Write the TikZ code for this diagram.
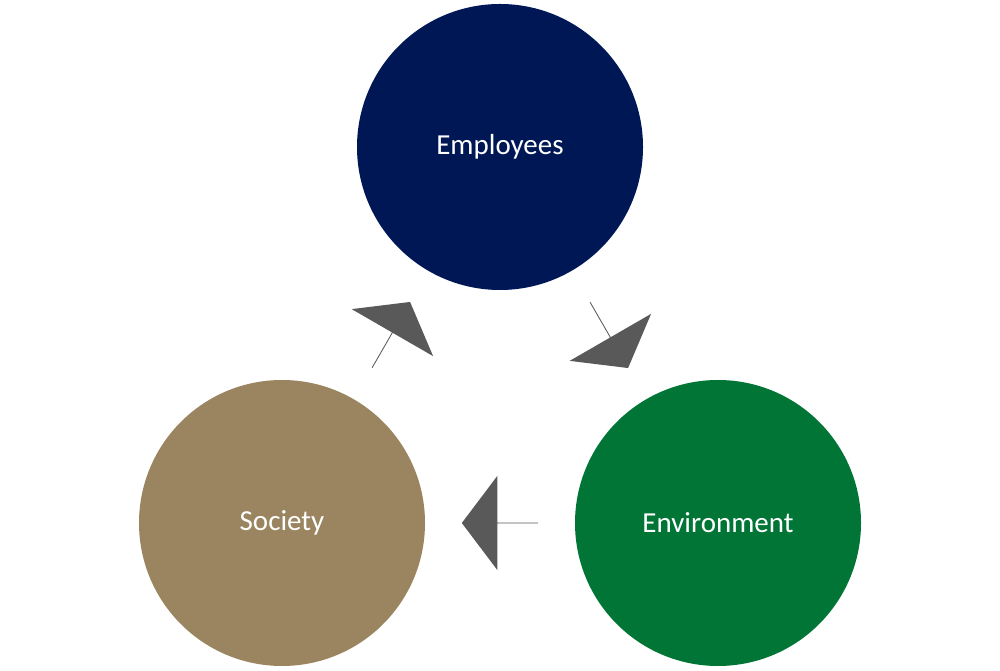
\documentclass[tikz,border=0pt]{standalone}
\usepackage{fontspec}
\setmainfont{Carlito}
\usetikzlibrary{shapes.arrows,calc}
\definecolor{navy}{RGB}{0,23,86}
\definecolor{leaf}{RGB}{0,117,53}
\definecolor{sand}{RGB}{155,133,96}
\definecolor{arrowgray}{RGB}{89,89,89}
\tikzset{
  ring/.style={circle,minimum size=286pt,inner sep=0pt,text=white,font=\fontsize{29}{34}\selectfont},
  flow/.style={single arrow,fill=arrowgray,inner sep=0pt,minimum height=76pt,minimum width=94pt,
    single arrow head extend=22pt,single arrow tip angle=106,single arrow head indent=0pt}
}
\begin{document}
\begin{tikzpicture}[x=1pt,y=1pt]
\useasboundingbox (0,0) rectangle (1000,671);

% circles
\node[ring,fill=navy] (emp) at (500,524) {Employees};
\node[ring,fill=leaf] (env) at (718,148) {Environment};
\node[ring,fill=sand] (soc) at (282,148) {Society};

% block arrows
\node[flow,rotate=-60] (a1) at ($(emp)!0.5!(env)$) {};
\node[flow,rotate=180] (a2) at ($(env)!0.5!(soc)$) {};
\node[flow,rotate=60] (a3) at ($(soc)!0.5!(emp)$) {};

\end{tikzpicture}
\end{document}
